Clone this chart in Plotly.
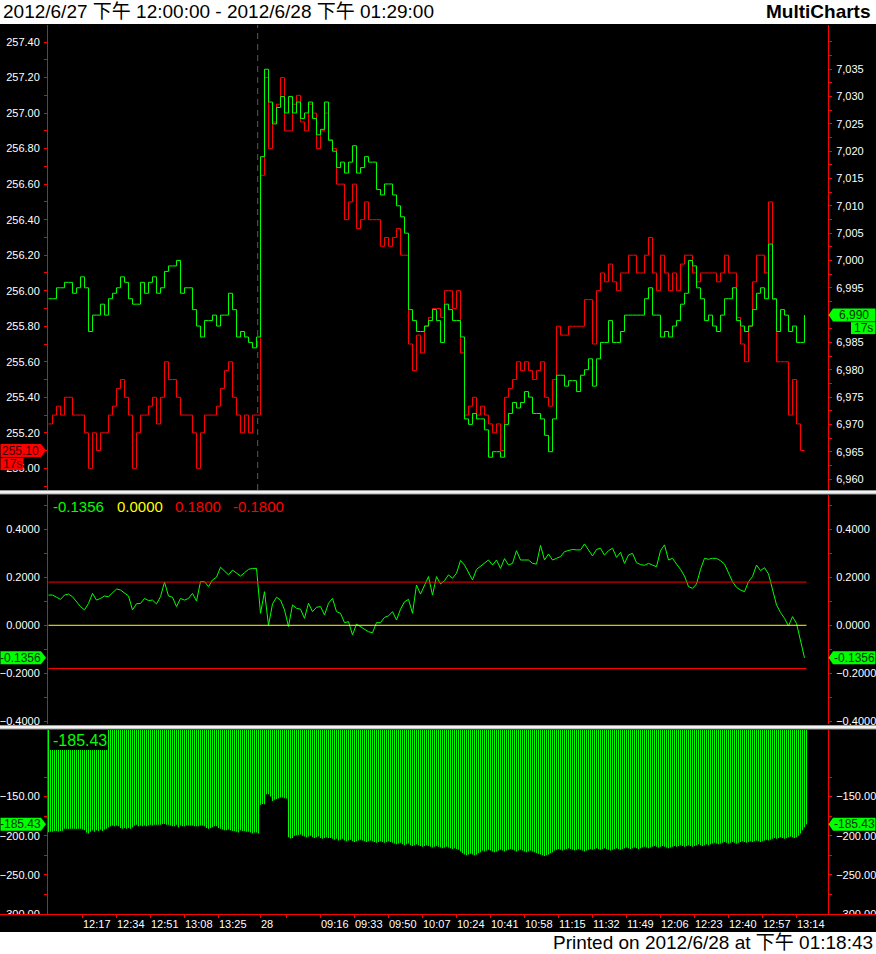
import plotly.graph_objects as go

# ---------------- data ----------------
# 1-minute bars: index 0 = 2012/6/27 12:00 ... 105 = 13:45 ; 106 = 2012/6/28 08:46 ... 379 = 13:19
price_bar_index = list(range(0, 380, 2))

red_price = [
    255.25, 255.30, 255.35, 255.30, 255.40, 255.40, 255.30, 255.30, 255.30, 255.20,
    255.00, 255.20, 255.10, 255.20, 255.20, 255.30, 255.35, 255.45, 255.50, 255.40,
    255.30, 255.00, 255.20, 255.30, 255.30, 255.35, 255.40, 255.25, 255.40, 255.60,
    255.50, 255.50, 255.40, 255.30, 255.30, 255.30, 255.20, 255.00, 255.20, 255.30,
    255.30, 255.30, 255.35, 255.45, 255.55, 255.60, 255.40, 255.30, 255.20, 255.30,
    255.20, 255.30, 255.30,
    256.65, 257.20, 256.80, 256.95, 257.05, 257.20, 256.90, 256.90, 257.05, 257.10,
    256.95, 256.90, 257.05, 257.00, 256.80, 256.90, 257.00, 256.85, 256.80, 256.60,
    256.60, 256.40, 256.50, 256.60, 256.35, 256.40, 256.50, 256.40, 256.40, 256.40,
    256.25, 256.30, 256.25, 256.30, 256.35, 256.20, 256.20, 255.70, 255.55, 255.75,
    255.65, 255.80, 255.85, 255.90, 255.90, 255.85, 256.00, 256.00, 255.90, 256.00,
    255.65, 255.30, 255.35, 255.40, 255.30, 255.35, 255.30, 255.25, 255.20, 255.25,
    255.10, 255.40, 255.45, 255.50, 255.60, 255.55, 255.60, 255.55, 255.50, 255.55,
    255.60, 255.40, 255.35, 255.50, 255.80, 255.75, 255.75, 255.80, 255.80, 255.80,
    255.80, 255.95, 255.95, 255.70, 256.00, 256.10, 256.05, 256.15, 256.05, 256.00,
    256.10, 256.10, 256.20, 256.20, 256.10, 256.10, 256.20, 256.30, 256.10, 256.00,
    256.20, 256.10, 256.00, 256.10, 256.00, 256.15, 256.20, 256.20, 256.10, 256.05,
    256.10, 256.10, 256.10, 256.10, 256.05, 256.10, 256.20, 256.10, 256.10, 255.85,
    255.70, 255.60, 255.80, 256.05, 256.20, 256.20, 256.10, 256.50, 255.95, 255.60,
    255.60, 255.60, 255.30, 255.50, 255.25, 255.10, 255.10,
]

green_price = [
    6993, 6993, 6995, 6995, 6996, 6996, 6994, 6995, 6997, 6995,
    6987, 6990, 6990, 6992, 6990, 6993, 6994, 6995, 6997, 6996,
    6993, 6992, 6992, 6996, 6994, 6996, 6997, 6994, 6995, 6998,
    6999, 6999, 7000, 6994, 6995, 6995, 6991, 6988, 6986, 6989,
    6989, 6990, 6988, 6990, 6990, 6994, 6991, 6986, 6987, 6986,
    6985, 6984, 6986,
    7019, 7035, 7029, 7025, 7028, 7030, 7027, 7030, 7027, 7029,
    7026, 7027, 7029, 7026, 7023, 7024, 7029, 7022, 7020, 7017,
    7018, 7016, 7018, 7021, 7016, 7017, 7019, 7018, 7018, 7013,
    7012, 7014, 7014, 7012, 7010, 7008, 7005, 6991, 6989, 6987,
    6987, 6988, 6989, 6991, 6989, 6985, 6992, 6991, 6989, 6989,
    6986, 6971, 6970, 6972, 6971, 6971, 6969, 6964, 6965, 6965,
    6964, 6970, 6972, 6974, 6973, 6974, 6976, 6975, 6972, 6972,
    6971, 6968, 6965, 6971, 6979, 6979, 6977, 6978, 6978, 6976,
    6979, 6980, 6982, 6977, 6982, 6985, 6985, 6989, 6985, 6985,
    6987, 6990, 6990, 6990, 6990, 6990, 6993, 6995, 6990, 6990,
    6986, 6987, 6986, 6988, 6989, 6992, 6994, 7000, 6999, 6995,
    6993, 6989, 6990, 6988, 6987, 6990, 6993, 6993, 6995, 6989,
    6988, 6987, 6988, 6991, 6994, 6995, 6993, 7003, 6993, 6987,
    6991, 6990, 6987, 6988, 6985, 6985, 6990,
]

osc_values = [
    0.126, 0.126, 0.117, 0.108, 0.126, 0.130, 0.119, 0.099, 0.078, 0.064,
    0.091, 0.133, 0.105, 0.112, 0.122, 0.119, 0.133, 0.151, 0.147, 0.136,
    0.122, 0.064, 0.090, 0.091, 0.112, 0.103, 0.105, 0.089, 0.119, 0.180,
    0.122, 0.117, 0.078, 0.112, 0.105, 0.112, 0.133, 0.101, 0.182, 0.182,
    0.161, 0.189, 0.200, 0.242, 0.228, 0.210, 0.230, 0.216, 0.205, 0.219,
    0.233, 0.237, 0.237,
    0.050, 0.140, 0.000, 0.089, 0.117, 0.105, 0.064, -0.005, 0.085, 0.071,
    0.067, 0.029, 0.092, 0.057, 0.075, 0.078, 0.043, 0.092, 0.112, 0.057,
    0.050, 0.011, 0.015, -0.040, 0.005, -0.006, -0.017, -0.027, -0.031, 0.011,
    0.011, 0.033, 0.039, 0.057, 0.022, 0.067, 0.098, 0.108, 0.050, 0.168,
    0.130, 0.164, 0.203, 0.126, 0.203, 0.172, 0.186, 0.210, 0.196, 0.217,
    0.270, 0.251, 0.223, 0.189, 0.233, 0.247, 0.261, 0.272, 0.251, 0.272,
    0.237, 0.278, 0.251, 0.258, 0.311, 0.272, 0.272, 0.272, 0.258, 0.255,
    0.333, 0.272, 0.297, 0.272, 0.279, 0.286, 0.307, 0.311, 0.316, 0.314,
    0.314, 0.339, 0.314, 0.289, 0.316, 0.321, 0.292, 0.311, 0.321, 0.283,
    0.304, 0.258, 0.293, 0.300, 0.261, 0.253, 0.250, 0.258, 0.251, 0.244,
    0.311, 0.335, 0.272, 0.279, 0.255, 0.233, 0.205, 0.161, 0.154, 0.172,
    0.233, 0.279, 0.275, 0.279, 0.279, 0.269, 0.255, 0.217, 0.182, 0.158,
    0.147, 0.140, 0.182, 0.203, 0.251, 0.228, 0.240, 0.214, 0.147, 0.085,
    0.053, 0.029, -0.003, 0.036, 0.008, -0.068, -0.1356,
]
osc_levels = [0.18, 0.0, -0.18]
osc_level_colors = ["#ff0000", "#ffff00", "#ff0000"]

hist_values = [
    -195.5, -195, -195, -194, -194, -194.5, -194, -193.5, -191, -191,
    -191.5, -191, -191, -191, -191.5, -191, -191, -192, -193, -196,
    -197, -195, -193, -195, -193, -194, -192, -194, -192, -191,
    -189, -188, -187, -188, -187, -188, -190, -191, -190, -191,
    -190, -191, -189, -187, -186, -188, -187, -188, -187, -188,
    -187, -186, -187, -186, -186, -186, -186, -185, -185, -186,
    -186, -187, -188, -188, -186, -189, -187, -188, -188, -187,
    -187, -187, -187, -188, -188, -188, -187, -187, -188, -190,
    -191, -190, -189, -188, -188, -190, -191, -192, -193, -193,
    -192, -193, -194, -194, -195, -196, -193, -194, -194, -195,
    -195, -196, -197, -196, -196, -197,
    -160.5, -159.5, -159.7, -147,
    -147, -150, -155.5, -154, -153, -152, -151.2, -151, -152, -152.5,
    -202, -203.5, -203, -200, -199.5, -199, -198.5,
    -200, -201, -202, -201, -200, -202, -203, -202, -201, -203, -204, -203, -202, -203,
    -203, -204, -205, -204, -206, -205, -204, -206, -207, -206,
    -205, -207, -208, -207, -206, -205, -206, -207, -208, -207,
    -206, -207, -208, -209, -208, -207, -208, -209, -208, -207,
    -208, -209, -210, -211, -210, -209, -211, -212, -211, -210,
    -212, -213, -212, -211, -212, -213, -214, -213, -212, -213,
    -214, -215, -214, -213, -214, -215, -216, -215, -214, -215,
    -216, -217, -216, -217, -218,
    -220, -222, -224, -225, -224, -223, -224, -225, -224, -222, -221,
    -219, -220, -219, -218, -219, -220, -221, -220, -219, -218,
    -219, -220, -219, -218, -217, -218, -219, -220, -219, -218,
    -219, -220, -221, -220, -219, -220, -221, -222, -223,
    -224, -225, -226, -225, -224, -222, -221,
    -219, -218, -217, -218, -219, -218, -217, -216, -217, -218,
    -219, -218, -217, -218, -219, -220, -219, -218, -217, -218,
    -217, -216, -217, -218, -217, -216, -217, -218, -219, -218,
    -217, -216, -217, -218, -217, -216, -215, -216, -217, -216,
    -215, -216, -217, -216, -215, -214, -215, -216,
    -215, -214, -213, -214, -215, -214, -213, -214, -215, -216,
    -215, -214, -213, -214, -213, -212, -213, -214, -213, -212,
    -213, -214, -213, -212, -211, -212, -213, -212, -211, -212,
    -211, -210, -209, -210, -211, -210, -209, -208, -209, -210,
    -209, -208, -209, -210, -209, -208, -207, -208, -209, -208,
    -207, -208, -207, -206, -207, -208, -207, -206, -205, -206,
    -205, -204, -203, -204, -203, -202, -203, -204, -203, -202,
    -201, -202, -203, -202,
    -200, -197, -193, -189, -185.43,
]
hist_index = list(range(len(hist_values)))

tick_index = [17, 34, 51, 68, 85, 106, 119, 136, 153, 170, 187, 204, 221,
              238, 255, 272, 289, 306, 323, 340, 357, 374]
tick_labels = ["12:17", "12:34", "12:51", "13:08", "13:25", "28", "", "09:16",
               "09:33", "09:50", "10:07", "10:24", "10:41", "10:58", "11:15",
               "11:32", "11:49", "12:06", "12:23", "12:40", "12:57", "13:14"]
session_break_index = 104.6

title_text = "2012/6/27 下午 12:00:00 - 2012/6/28 下午 01:29:00"
brand_text = "MultiCharts"
footer_text = "Printed on 2012/6/28 at 下午 01:18:43"
bar_timer = "17s"

# ---------------- layout geometry ----------------
W, H = 876, 954
ML, MR, MT, MB = 48, 48, 25, 40
PW, PH = W - ML - MR, H - MT - MB
FONT = "Liberation Sans, Arial, Noto Sans CJK TC, sans-serif"


def X(px):
    return (px - ML) / PW


def Y(py):
    return (H - MB - py) / PH


TOP = (25, 490)
MID = (495, 724)
BOT = (730, 914)

r_top_l = [254.878, 257.496]
r_top_r = [6957.99, 7043.1]
r_mid = [-0.4113, 0.5429]
r_bot = [-300, -64.9]


def vpx(v, rng, pane):
    return pane[0] + (rng[1] - v) / (rng[1] - rng[0]) * (pane[1] - pane[0])


RED, GREEN, YEL = "#ff0000", "#00ff00", "#ffff00"

fig = go.Figure()
fig.add_trace(go.Scatter(x=price_bar_index, y=red_price, mode="lines",
                         line=dict(color=RED, width=1, shape="hv"),
                         xaxis="x", yaxis="y"))
fig.add_trace(go.Scatter(x=price_bar_index, y=green_price, mode="lines",
                         line=dict(color=GREEN, width=1, shape="hv"),
                         xaxis="x", yaxis="y2"))
for lvl, col in zip(osc_levels, osc_level_colors):
    fig.add_trace(go.Scatter(x=[hist_index[0], hist_index[-1]], y=[lvl, lvl],
                             mode="lines", line=dict(color=col, width=1),
                             xaxis="x", yaxis="y4"))
fig.add_trace(go.Scatter(x=price_bar_index, y=osc_values, mode="lines",
                         line=dict(color=GREEN, width=1),
                         xaxis="x", yaxis="y3"))
fig.add_trace(go.Bar(x=hist_index, y=hist_values, width=0.5,
                     marker=dict(color="rgba(0,255,0,0.99)", line=dict(width=0)),
                     xaxis="x", yaxis="y5"))
fig.add_trace(go.Scatter(x=[hist_index[-1]], y=[hist_values[-1]], mode="markers",
                         marker=dict(opacity=0), xaxis="x", yaxis="y6"))

tickfont = dict(family=FONT, size=11, color="#ffffff")


def yax(rng, dom, side, tickvals, fmt, minor_vals, overlay=None):
    d = dict(range=rng, side=side, anchor="x", showgrid=False, zeroline=False,
             showline=True, linecolor=RED, linewidth=1, ticks="outside",
             tickcolor=RED, ticklen=3, tickwidth=1, tickfont=tickfont,
             tickmode="array", tickvals=tickvals, tickformat=fmt,
             ticklabelstandoff=2, fixedrange=True, automargin=False,
             minor=dict(ticks="outside", ticklen=3, tickcolor=RED, tickwidth=1,
                        tickmode="array", tickvals=minor_vals))
    if overlay:
        d["overlaying"] = overlay
    else:
        d["domain"] = dom
    return d


top_l_ticks = [255.0 + 0.2 * k for k in range(13)]
top_l_minor = [254.9 + 0.2 * k for k in range(14)]
top_r_ticks = list(range(6960, 7040, 5))
top_r_minor = [6957.5 + 5 * k for k in range(17)] + [7040]
mid_ticks = [-0.4, -0.2, 0.0, 0.2, 0.4]
mid_minor = [-0.3, -0.1, 0.1, 0.3, 0.5]
bot_ticks = [-300, -250, -200, -150]
bot_minor = [-275, -225, -175, -125]

dom_top = [Y(TOP[1]), 1.0]
dom_mid = [Y(MID[1]), Y(MID[0])]
dom_bot = [0.0, Y(BOT[0])]

layout = dict(
    width=W, height=H,
    margin=dict(l=ML, r=MR, t=MT, b=MB, pad=0, autoexpand=False),
    paper_bgcolor="#000000", plot_bgcolor="#000000", showlegend=False,
    hovermode=False, barmode="overlay",
    xaxis=dict(range=[-0.25, 389.75], anchor="y5", showgrid=False, zeroline=False,
               showline=False, ticks="outside", tickcolor=RED, ticklen=3,
               tickwidth=1, tickmode="array", tickvals=tick_index,
               ticktext=tick_labels, ticklabelposition="outside right",
               tickangle=0, tickfont=tickfont, fixedrange=True, automargin=False),
    yaxis=yax(r_top_l, dom_top, "left", top_l_ticks, ".2f", top_l_minor),
    yaxis2=yax(r_top_r, dom_top, "right", top_r_ticks, ",d", top_r_minor, "y"),
    yaxis3=yax(r_mid, dom_mid, "left", mid_ticks, ".4f", mid_minor),
    yaxis4=yax(r_mid, dom_mid, "right", mid_ticks, ".4f", mid_minor, "y3"),
    yaxis5=yax(r_bot, dom_bot, "left", bot_ticks, ".2f", bot_minor),
    yaxis6=yax(r_bot, dom_bot, "right", bot_ticks, ".2f", bot_minor, "y5"),
)
fig.update_layout(**layout)

shapes = []
ann = []


def rect(x0, y0, x1, y1, fill):
    shapes.append(dict(type="rect", xref="paper", yref="paper", x0=X(x0), x1=X(x1),
                       y0=Y(y1), y1=Y(y0), fillcolor=fill, line=dict(width=0),
                       layer="above"))


# session break (dashed) in the price pane
shapes.append(dict(type="line", xref="x", yref="y domain", x0=session_break_index,
                   x1=session_break_index, y0=0, y1=1,
                   line=dict(color="#5a5a5a", width=1, dash="6px,5px"),
                   layer="above"))

# header / footer white bands
rect(0, 0, W, 24, "#ffffff")
rect(0, 932, W, H, "#ffffff")
# clip the bottom axis labels at the axis line
rect(0, 915, ML - 1, 922, "#000000")
rect(W - MR + 1, 915, W, 922, "#000000")
# bottom axis line across the whole width
shapes.append(dict(type="line", xref="paper", yref="paper", x0=X(0), x1=X(W),
                   y0=Y(914.5), y1=Y(914.5), line=dict(color=RED, width=1),
                   layer="above"))
# pane separators
for s in (490, 725):
    rect(0, s, W, s + 4.5, "#9c9c9c")
    rect(0, s + 1, W, s + 3.5, "#f2f2f2")


def tag(side, py, text, fill, tcol):
    h = 6.5
    if side == "left":
        x0, x1, tip = 0.5, 41, 46
    else:
        x0, x1, tip = 875.5, 833, 828.5
    path = (f"M {X(x0)},{Y(py - h)} L {X(x1)},{Y(py - h)} L {X(tip)},{Y(py)} "
            f"L {X(x1)},{Y(py + h)} L {X(x0)},{Y(py + h)} Z")
    shapes.append(dict(type="path", path=path, xref="paper", yref="paper",
                       fillcolor=fill, line=dict(width=0), layer="above"))
    ann.append(dict(x=X((x0 + x1) / 2), y=Y(py), xref="paper", yref="paper",
                    text=text, showarrow=False, xanchor="center", yanchor="middle",
                    font=dict(family=FONT, size=12, color=tcol)))


def timer_box(x0, x1, y0, y1, fill, tcol):
    rect(x0, y0, x1, y1, fill)
    ann.append(dict(x=X((x0 + x1) / 2), y=Y((y0 + y1) / 2), xref="paper",
                    yref="paper", text=bar_timer, showarrow=False,
                    xanchor="center", yanchor="middle",
                    font=dict(family=FONT, size=12, color=tcol)))


py_red = vpx(red_price[-1], r_top_l, TOP)
py_grn = vpx(green_price[-1], r_top_r, TOP)
py_osc = vpx(osc_values[-1], r_mid, MID)
py_hist = vpx(hist_values[-1], r_bot, BOT)

tag("left", py_red, f"{red_price[-1]:.2f}", RED, "#3a0000")
timer_box(0.5, 23.5, py_red + 7.5, py_red + 19.5, RED, "#3a0000")
tag("right", py_grn, f"{green_price[-1]:,}", GREEN, "#003300")
timer_box(851, 875.5, py_grn + 7, py_grn + 19, GREEN, "#003300")
tag("left", py_osc, f"{osc_values[-1]:.4f}", GREEN, "#003300")
tag("right", py_osc, f"{osc_values[-1]:.4f}", GREEN, "#003300")
tag("left", py_hist, f"{hist_values[-1]:.2f}", GREEN, "#003300")
tag("right", py_hist, f"{hist_values[-1]:.2f}", GREEN, "#003300")

# bottom pane value label
rect(50, 730, 107, 750, "#000000")
ann.append(dict(x=X(51), y=Y(740), xref="paper", yref="paper",
                text=f"{hist_values[-1]:.2f}", showarrow=False, xanchor="left",
                yanchor="middle", font=dict(family=FONT, size=16, color=GREEN)))

# oscillator pane header values
for px, txt, col in [(51, f"{osc_values[-1]:.4f}", GREEN),
                     (115, f"{osc_levels[1]:.4f}", YEL),
                     (173, f"{osc_levels[0]:.4f}", RED),
                     (231, f"{osc_levels[2]:.4f}", RED)]:
    ann.append(dict(x=X(px), y=Y(506), xref="paper", yref="paper", text=txt,
                    showarrow=False, xanchor="left", yanchor="middle",
                    font=dict(family=FONT, size=15, color=col)))

# header / footer texts
ann.append(dict(x=X(1), y=Y(12), xref="paper", yref="paper", text=title_text,
                showarrow=False, xanchor="left", yanchor="middle",
                font=dict(family=FONT, size=19, color="#000000")))
ann.append(dict(x=X(873), y=Y(12), xref="paper", yref="paper",
                text=f"<b>{brand_text}</b>", showarrow=False, xanchor="right",
                yanchor="middle", font=dict(family=FONT, size=19, color="#000000")))
ann.append(dict(x=X(875), y=Y(943), xref="paper", yref="paper", text=footer_text,
                showarrow=False, xanchor="right", yanchor="middle",
                font=dict(family=FONT, size=19, color="#000000")))

fig.update_layout(shapes=shapes, annotations=ann)
fig.write_html("out.html", config={"displayModeBar": False},
               post_script="document.body.style.margin='0px';"
                           "document.body.style.padding='0px';")
